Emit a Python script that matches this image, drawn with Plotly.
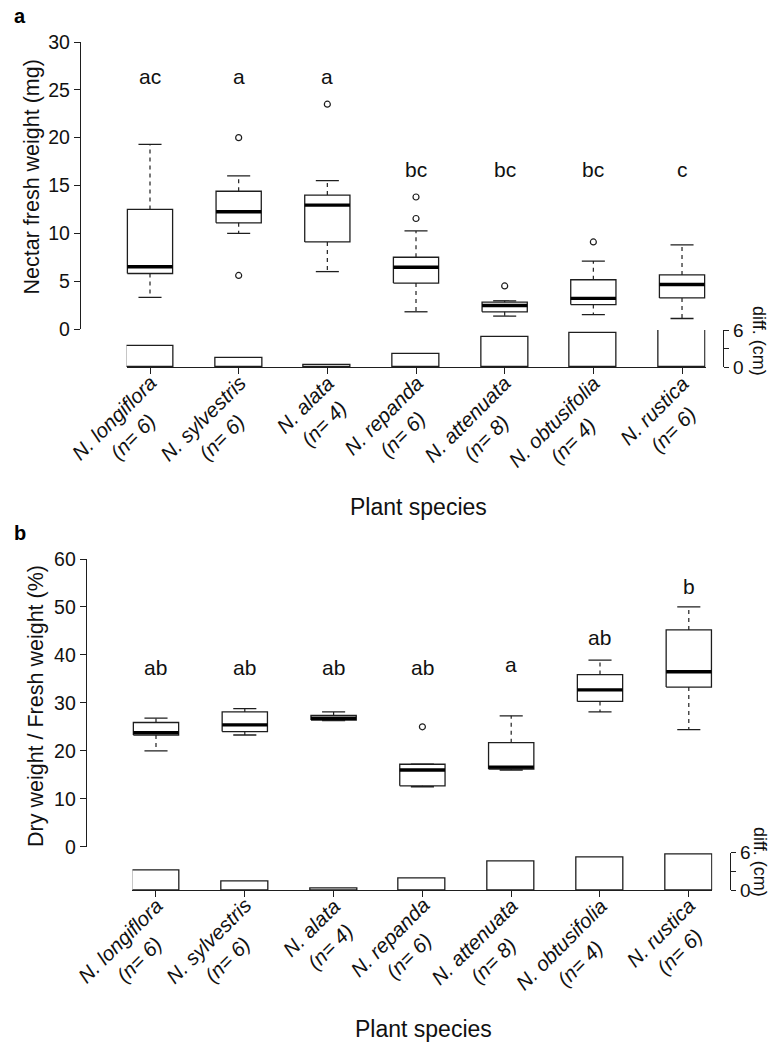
import plotly.graph_objects as go

W, H = 772, 1045

species = ["N. longiflora", "N. sylvestris", "N. alata", "N. repanda",
           "N. attenuata", "N. obtusifolia", "N. rustica"]
n_plants = [6, 6, 4, 6, 8, 4, 6]

# ---- panel a : nectar fresh weight (mg) ----
a_low = [3.3, 10.0, 6.0, 1.8, 1.35, 1.5, 1.1]
a_q1 = [5.8, 11.1, 9.1, 4.8, 1.8, 2.55, 3.25]
a_med = [6.5, 12.25, 12.95, 6.45, 2.45, 3.2, 4.65]
a_q3 = [12.5, 14.4, 14.0, 7.5, 2.8, 5.15, 5.65]
a_high = [19.3, 16.0, 15.5, 10.25, 2.95, 7.1, 8.8]
a_out_species = ["N. sylvestris", "N. sylvestris", "N. alata", "N. repanda",
                 "N. repanda", "N. attenuata", "N. obtusifolia"]
a_out_values = [20.0, 5.6, 23.5, 13.8, 11.55, 4.5, 9.1]
a_letters = ["ac", "a", "a", "bc", "bc", "bc", "c"]
a_letter_y = [26.4, 26.4, 26.4, 16.7, 16.7, 16.7, 16.7]
a_diff = [3.4, 1.45, 0.3, 2.2, 4.8, 5.5, 6.0]

# ---- panel b : dry weight / fresh weight (%) ----
b_low = [20.0, 23.3, 26.3, 12.5, 16.0, 28.1, 24.4]
b_q1 = [23.3, 24.0, 26.4, 12.7, 16.2, 30.3, 33.3]
b_med = [23.8, 25.4, 26.8, 16.0, 16.6, 32.7, 36.5]
b_q3 = [25.9, 28.1, 27.4, 17.2, 21.7, 35.9, 45.2]
b_high = [26.8, 28.8, 28.1, 17.2, 27.3, 38.9, 50.0]
b_out_species = ["N. repanda"]
b_out_values = [25.0]
b_letters = ["ab", "ab", "ab", "ab", "a", "ab", "b"]
b_letter_y = [37.4, 37.4, 37.4, 37.4, 38.1, 43.6, 54.2]
b_diff = [3.2, 1.3, 0.2, 1.9, 4.6, 5.2, 5.7]

a_yticks = [0, 5, 10, 15, 20, 25, 30]
b_yticks = [0, 10, 20, 30, 40, 50, 60]
diff_ticks = [0, 3, 6]
diff_ticktext = ["0", "", "6"]

INK = "#1e1e1e"
FONT = "Liberation Sans, Arial, sans-serif"
BOX_HALF = 0.255
CAP_HALF = 0.13
BAR_W = 0.53


def fx(p):
    return p / W


def fy(p):
    return 1 - p / H


fig = go.Figure()


def add_boxes(xa, ya, low, q1, med, q3, high, out_sp, out_val):
    idx = list(range(len(species)))
    bx, by, mx, my, wx, wy, cx, cy = [], [], [], [], [], [], [], []
    for i in idx:
        bx += [i - BOX_HALF, i + BOX_HALF, i + BOX_HALF, i - BOX_HALF, i - BOX_HALF, None]
        by += [q1[i], q1[i], q3[i], q3[i], q1[i], None]
        mx += [i - BOX_HALF, i + BOX_HALF, None]
        my += [med[i], med[i], None]
        wx += [i, i, None, i, i, None]
        wy += [q3[i], high[i], None, q1[i], low[i], None]
        cx += [i - CAP_HALF, i + CAP_HALF, None, i - CAP_HALF, i + CAP_HALF, None]
        cy += [high[i], high[i], None, low[i], low[i], None]
    common = dict(xaxis=xa, yaxis=ya, hoverinfo="skip", showlegend=False, mode="lines")
    fig.add_trace(go.Scatter(x=wx, y=wy, line=dict(color=INK, width=1.2, dash="4px,4px"), **common))
    fig.add_trace(go.Scatter(x=cx, y=cy, line=dict(color=INK, width=1.3), **common))
    fig.add_trace(go.Scatter(x=bx, y=by, line=dict(color=INK, width=1.3), **common))
    fig.add_trace(go.Scatter(x=mx, y=my, line=dict(color="#000000", width=3.4), **common))
    fig.add_trace(go.Scatter(
        x=[species.index(s) for s in out_sp], y=out_val, mode="markers",
        marker=dict(symbol="circle-open", size=6, color=INK, line=dict(width=1.2, color=INK)),
        xaxis=xa, yaxis=ya, hoverinfo="skip", showlegend=False))


def add_bars(xa, ya, diff):
    fig.add_trace(go.Bar(
        x=list(range(len(species))), y=diff, width=BAR_W,
        marker=dict(color="white", line=dict(color=INK, width=1.3)),
        xaxis=xa, yaxis=ya, hoverinfo="skip", showlegend=False, cliponaxis=False))


add_boxes("x", "y", a_low, a_q1, a_med, a_q3, a_high, a_out_species, a_out_values)
add_bars("x2", "y2", a_diff)
add_boxes("x3", "y3", b_low, b_q1, b_med, b_q3, b_high, b_out_species, b_out_values)
add_bars("x4", "y4", b_diff)

n = len(species)

# layout geometry (pixels)
panels = {
    "a": dict(c0=150.0, s=88.67, y0=329.0, ytop=42.0, ymax=30, bar0=367.3, bar6=330.0,
              bracket=723.0),
    "b": dict(c0=156.0, s=88.8, y0=846.7, ytop=559.0, ymax=60, bar0=890.0, bar6=852.5,
              bracket=730.0),
}

axis_common = dict(showgrid=False, zeroline=False, linecolor=INK, linewidth=1.2, automargin=False,
                   tickcolor=INK, tickwidth=1.2, tickfont=dict(size=19.5, color="#111", family=FONT))

layout_axes = {}
for key, (xb, yb, xr, yr, ticks) in {
    "a": ("xaxis", "yaxis", "xaxis2", "yaxis2", a_yticks),
    "b": ("xaxis3", "yaxis3", "xaxis4", "yaxis4", b_yticks),
}.items():
    p = panels[key]
    c0, s = p["c0"], p["s"]
    ya_name = yb.replace("axis", "")
    xa_name = xb.replace("axis", "")
    yr_name = yr.replace("axis", "")
    layout_axes[xb] = dict(domain=[fx(c0 - 0.78 * s), fx(c0 + (n - 1 + 0.78) * s)],
                           range=[-0.78, n - 1 + 0.78], visible=False, anchor=ya_name,
                           automargin=False)
    layout_axes[yb] = dict(domain=[fy(p["y0"]), fy(p["ytop"])], range=[0, p["ymax"]],
                           anchor=xa_name, showline=True, ticks="outside", ticklen=6,
                           tickvals=ticks, ticklabelstandoff=0, **axis_common)
    layout_axes[xr] = dict(domain=[fx(c0 - 0.265 * s), fx(c0 + (n - 1 + 0.265) * s)],
                           range=[-0.265, n - 1 + 0.265], anchor=yr_name, showline=True,
                           ticks="outside", ticklen=6, tickvals=list(range(n)),
                           showticklabels=False, **axis_common)
    layout_axes[yr] = dict(domain=[fy(p["bar0"]), fy(p["bar6"])], range=[0, 6],
                           anchor="free", position=fx(p["bracket"]), side="right",
                           showline=True, ticks="outside", ticklen=5, tickvals=diff_ticks,
                           ticktext=diff_ticktext, ticklabelstandoff=0,
                           **{**axis_common, "tickfont": dict(size=19, color="#111", family=FONT)})

annotations = []


def ann(**kw):
    base = dict(showarrow=False, xanchor="center", yanchor="middle",
                font=dict(family=FONT, size=21.5, color="#111"))
    base.update(kw)
    annotations.append(base)


# panel labels
ann(text="<b>a</b>", x=fx(20), y=fy(16), xref="paper", yref="paper", font=dict(family=FONT, size=20, color="#000"))
ann(text="<b>b</b>", x=fx(20), y=fy(533), xref="paper", yref="paper", font=dict(family=FONT, size=20, color="#000"))

# axis titles
ann(text="Nectar fresh weight (mg)", textangle=-90, x=fx(31.5), y=fy(177), xref="paper", yref="paper")
ann(text="Dry weight / Fresh weight (%)", textangle=-90, x=fx(36), y=fy(706), xref="paper", yref="paper")
ann(text="Plant species", x=fx(418.5), y=fy(507), xref="paper", yref="paper",
    font=dict(family=FONT, size=23, color="#111"))
ann(text="Plant species", x=fx(423.5), y=fy(1029), xref="paper", yref="paper",
    font=dict(family=FONT, size=23, color="#111"))
ann(text="diff. (cm)", textangle=90, x=fx(759), y=fy(341), xref="paper", yref="paper",
    font=dict(family=FONT, size=18, color="#111"))
ann(text="diff. (cm)", textangle=90, x=fx(760), y=fy(862), xref="paper", yref="paper",
    font=dict(family=FONT, size=18, color="#111"))

# significance letters
for i in range(n):
    ann(text=a_letters[i], x=i, y=a_letter_y[i], xref="x", yref="y", font=dict(family=FONT, size=21, color="#111"))
    ann(text=b_letters[i], x=i, y=b_letter_y[i], xref="x3", yref="y3", font=dict(family=FONT, size=21, color="#111"))

# rotated species labels (placed on the box-plot x scale, which shares the category centres)
for i in range(n):
    label = f"<i>{species[i]}<br>(n= {n_plants[i]})</i>"
    ann(text=label, textangle=-45, x=i + 0.37, y=fy(panels["a"]["bar0"] + 1), xref="x", yref="paper",
        xanchor="right", yanchor="top", align="center", font=dict(family=FONT, size=20.5, color="#111"))
    ann(text=label, textangle=-45, x=i + 0.37, y=fy(panels["b"]["bar0"] + 1), xref="x3", yref="paper",
        xanchor="right", yanchor="top", align="center", font=dict(family=FONT, size=20.5, color="#111"))

fig.update_layout(
    template="none",
    width=W, height=H, margin=dict(l=0, r=0, t=0, b=0, autoexpand=False),
    paper_bgcolor="white", plot_bgcolor="white",
    font=dict(family=FONT, color="#111"),
    showlegend=False, bargap=0,
    annotations=annotations,
    **layout_axes,
)

fig.write_html("out.html")
